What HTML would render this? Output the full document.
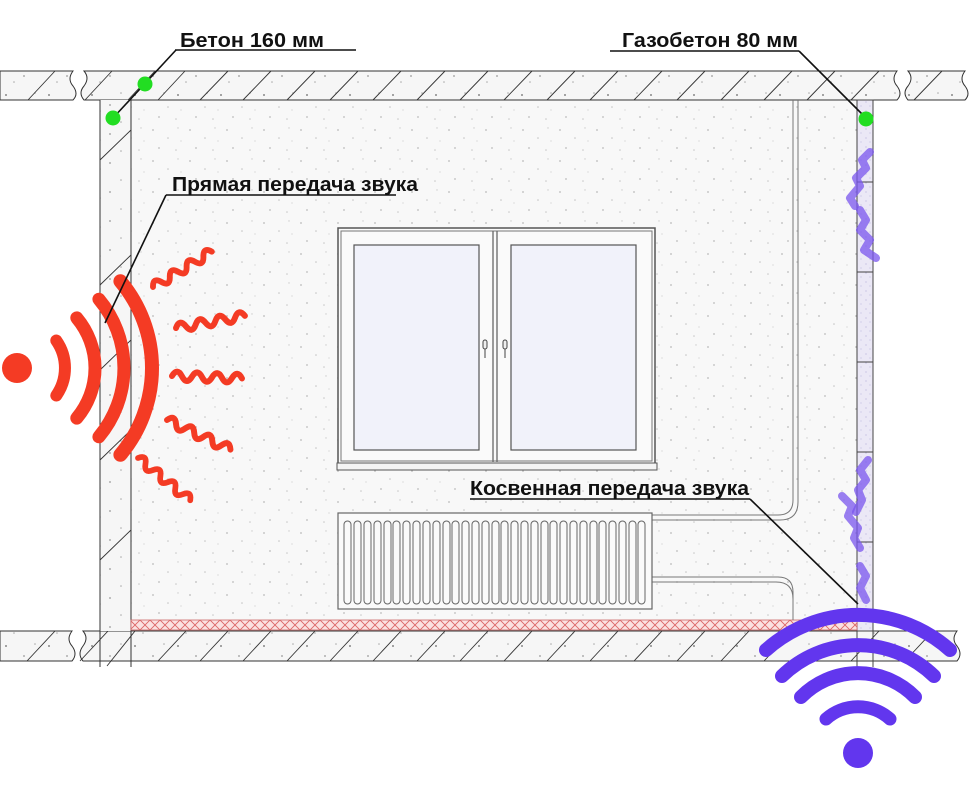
<!DOCTYPE html>
<html><head><meta charset="utf-8">
<style>
html,body{margin:0;padding:0;background:#fff;}
svg{display:block;}
text{font-family:"Liberation Sans","DejaVu Sans",sans-serif;font-weight:bold;fill:#111;}
</style></head>
<body>
<svg width="980" height="800" viewBox="0 0 980 800" xmlns="http://www.w3.org/2000/svg">
<defs>
<pattern id="dots" width="37" height="31" patternUnits="userSpaceOnUse">
<rect width="37" height="31" fill="#f8f8f8"/>
<circle cx="5" cy="6" r="0.9" fill="#bbb"/>
<circle cx="20" cy="14" r="0.8" fill="#c4c4c4"/>
<circle cx="30" cy="4" r="0.7" fill="#ccc"/>
<circle cx="11" cy="24" r="0.9" fill="#bdbdbd"/>
<circle cx="28" cy="26" r="0.8" fill="#c8c8c8"/>
<circle cx="33" cy="17" r="0.6" fill="#ccc"/>
</pattern>
<pattern id="slabdots" width="43" height="29" patternUnits="userSpaceOnUse">
<rect width="43" height="29" fill="#f6f6f6"/>
<circle cx="6" cy="8" r="1" fill="#888"/>
<circle cx="24" cy="18" r="0.9" fill="#999"/>
<circle cx="35" cy="6" r="0.8" fill="#aaa"/>
<circle cx="14" cy="24" r="0.8" fill="#aaa"/>
</pattern>
<pattern id="gas" width="9" height="9" patternUnits="userSpaceOnUse">
<rect width="9" height="9" fill="#ebe8f6"/>
<circle cx="2" cy="3" r="0.6" fill="#b9b2dc"/>
<circle cx="6" cy="7" r="0.6" fill="#c3bde2"/>
</pattern>
<pattern id="cross" width="10" height="10" patternUnits="userSpaceOnUse">
<rect width="10" height="10" fill="#fbe1e1"/>
<path d="M0,0 L10,10 M10,0 L0,10" stroke="#d66" stroke-width="0.9"/>
</pattern>
<g id="wave"><path d="M0,0 q5,-9 10,0 t10,0 t10,0 t10,0 t10,0 t10,0 t10,0" fill="none" stroke="#f43b24" stroke-width="6" stroke-linecap="round"/></g>
</defs>

<rect x="131" y="100" width="726" height="530" fill="url(#dots)"/>
<path d="M0,71 H73 q-6,8 0,15 q6,8 0,14 H0 Z" fill="url(#slabdots)" stroke="#333" stroke-width="1"/>
<path d="M84,71 H897 q-6,8 0,15 q6,8 0,14 H84 q-6,-7 0,-14 q6,-8 0,-15 Z" fill="url(#slabdots)" stroke="#333" stroke-width="1"/>
<path d="M908,71 H965 q-6,8 0,15 q6,8 0,14 H908 q-6,-7 0,-14 q6,-8 0,-15 Z" fill="url(#slabdots)" stroke="#333" stroke-width="1"/>
<g stroke="#333" stroke-width="0.9">
<line x1="28" y1="100" x2="55" y2="71"/><line x1="85" y1="100" x2="112" y2="71"/>
<line x1="128" y1="100" x2="155" y2="71"/><line x1="158" y1="100" x2="185" y2="71"/>
<line x1="200" y1="100" x2="228" y2="71"/><line x1="243" y1="100" x2="271" y2="71"/>
<line x1="287" y1="100" x2="315" y2="71"/><line x1="330" y1="100" x2="358" y2="71"/>
<line x1="373" y1="100" x2="401" y2="71"/><line x1="417" y1="100" x2="445" y2="71"/>
<line x1="460" y1="100" x2="488" y2="71"/><line x1="504" y1="100" x2="532" y2="71"/>
<line x1="547" y1="100" x2="575" y2="71"/><line x1="590" y1="100" x2="618" y2="71"/>
<line x1="634" y1="100" x2="662" y2="71"/><line x1="677" y1="100" x2="705" y2="71"/>
<line x1="721" y1="100" x2="749" y2="71"/><line x1="764" y1="100" x2="792" y2="71"/>
<line x1="807" y1="100" x2="835" y2="71"/><line x1="851" y1="100" x2="879" y2="71"/>
<line x1="914" y1="100" x2="942" y2="71"/>
</g>
<path d="M0,631 H72 q-6,8 0,15 q6,8 0,15 H0 Z" fill="url(#slabdots)" stroke="#333" stroke-width="1"/>
<path d="M83,631 H957 q-6,8 0,15 q6,8 0,15 H83 q-6,-7 0,-15 q6,-8 0,-15 Z" fill="url(#slabdots)" stroke="#333" stroke-width="1"/>
<g stroke="#333" stroke-width="0.9">
<line x1="27" y1="661" x2="55" y2="631"/><line x1="80" y1="661" x2="108" y2="631"/>
<line x1="107" y1="666" x2="135" y2="631"/><line x1="158" y1="661" x2="186" y2="631"/>
<line x1="200" y1="661" x2="228" y2="631"/><line x1="243" y1="661" x2="271" y2="631"/>
<line x1="287" y1="661" x2="315" y2="631"/><line x1="330" y1="661" x2="358" y2="631"/>
<line x1="373" y1="661" x2="401" y2="631"/><line x1="417" y1="661" x2="445" y2="631"/>
<line x1="460" y1="661" x2="488" y2="631"/><line x1="504" y1="661" x2="532" y2="631"/>
<line x1="547" y1="661" x2="575" y2="631"/><line x1="590" y1="661" x2="618" y2="631"/>
<line x1="634" y1="661" x2="662" y2="631"/><line x1="677" y1="661" x2="705" y2="631"/>
<line x1="721" y1="661" x2="749" y2="631"/><line x1="764" y1="661" x2="792" y2="631"/>
<line x1="851" y1="661" x2="879" y2="631"/><line x1="905" y1="661" x2="933" y2="631"/>
</g>
<rect x="100" y="100" width="31" height="531" fill="url(#slabdots)"/>
<line x1="100" y1="100" x2="100" y2="667" stroke="#333" stroke-width="1"/>
<line x1="131" y1="100" x2="131" y2="667" stroke="#333" stroke-width="1"/>
<g stroke="#333" stroke-width="0.9">
<line x1="100" y1="160" x2="131" y2="130"/><line x1="100" y1="285" x2="131" y2="255"/>
<line x1="100" y1="370" x2="131" y2="340"/><line x1="100" y1="460" x2="131" y2="430"/>
<line x1="100" y1="560" x2="131" y2="530"/>
</g>
<rect x="857" y="100" width="16" height="531" fill="url(#gas)" stroke="#444" stroke-width="1"/>
<g stroke="#444" stroke-width="1">
<line x1="857" y1="182" x2="873" y2="182"/><line x1="857" y1="272" x2="873" y2="272"/>
<line x1="857" y1="362" x2="873" y2="362"/><line x1="857" y1="452" x2="873" y2="452"/>
<line x1="857" y1="542" x2="873" y2="542"/>
<line x1="857" y1="631" x2="857" y2="667"/><line x1="873" y1="631" x2="873" y2="667"/>
</g>
<rect x="131" y="620" width="726" height="10" fill="url(#cross)" stroke="#c66" stroke-width="0.8"/>
<g fill="none" stroke="#777" stroke-width="1">
<path d="M793,100 V500 q0,15 -15,15 H652"/>
<path d="M798,100 V502 q0,18 -18,18 H652"/>
<path d="M652,577 H778 q15,0 15,15 V620"/>
<path d="M652,582 H776 q17,0 17,17 V620"/>
</g>
<rect x="338" y="228" width="317" height="236" fill="#fafafa" stroke="#555" stroke-width="1.5"/>
<rect x="341" y="231" width="311" height="230" fill="none" stroke="#777" stroke-width="1"/>
<line x1="493" y1="231" x2="493" y2="462" stroke="#666" stroke-width="1.3"/>
<line x1="497" y1="231" x2="497" y2="462" stroke="#666" stroke-width="1.3"/>
<rect x="354" y="245" width="125" height="205" fill="#f1f2fa" stroke="#555" stroke-width="1.2"/>
<rect x="511" y="245" width="125" height="205" fill="#f1f2fa" stroke="#555" stroke-width="1.2"/>
<rect x="337" y="463" width="320" height="7" fill="#f4f4f4" stroke="#555" stroke-width="1"/>
<g fill="#eee" stroke="#444" stroke-width="1">
<rect x="483" y="340" width="4" height="9" rx="2"/><line x1="485" y1="349" x2="485" y2="358"/>
<rect x="503" y="340" width="4" height="9" rx="2"/><line x1="505" y1="349" x2="505" y2="358"/>
</g>
<rect x="338" y="513" width="314" height="96" fill="#fafafa" stroke="#666" stroke-width="1.2"/>
<g fill="none" stroke="#666" stroke-width="1">
<rect x="344" y="521" width="7" height="83" rx="3.5"/><rect x="354" y="521" width="7" height="83" rx="3.5"/>
<rect x="364" y="521" width="7" height="83" rx="3.5"/><rect x="374" y="521" width="7" height="83" rx="3.5"/>
<rect x="384" y="521" width="7" height="83" rx="3.5"/><rect x="393" y="521" width="7" height="83" rx="3.5"/>
<rect x="403" y="521" width="7" height="83" rx="3.5"/><rect x="413" y="521" width="7" height="83" rx="3.5"/>
<rect x="423" y="521" width="7" height="83" rx="3.5"/><rect x="433" y="521" width="7" height="83" rx="3.5"/>
<rect x="443" y="521" width="7" height="83" rx="3.5"/><rect x="452" y="521" width="7" height="83" rx="3.5"/>
<rect x="462" y="521" width="7" height="83" rx="3.5"/><rect x="472" y="521" width="7" height="83" rx="3.5"/>
<rect x="482" y="521" width="7" height="83" rx="3.5"/><rect x="492" y="521" width="7" height="83" rx="3.5"/>
<rect x="501" y="521" width="7" height="83" rx="3.5"/><rect x="511" y="521" width="7" height="83" rx="3.5"/>
<rect x="521" y="521" width="7" height="83" rx="3.5"/><rect x="531" y="521" width="7" height="83" rx="3.5"/>
<rect x="541" y="521" width="7" height="83" rx="3.5"/><rect x="550" y="521" width="7" height="83" rx="3.5"/>
<rect x="560" y="521" width="7" height="83" rx="3.5"/><rect x="570" y="521" width="7" height="83" rx="3.5"/>
<rect x="580" y="521" width="7" height="83" rx="3.5"/><rect x="590" y="521" width="7" height="83" rx="3.5"/>
<rect x="599" y="521" width="7" height="83" rx="3.5"/><rect x="609" y="521" width="7" height="83" rx="3.5"/>
<rect x="619" y="521" width="7" height="83" rx="3.5"/><rect x="629" y="521" width="7" height="83" rx="3.5"/>
<rect x="638" y="521" width="7" height="83" rx="3.5"/>
</g>

<g fill="none" stroke="#7a55ee" stroke-opacity="0.75" stroke-width="8" stroke-linejoin="round" stroke-linecap="round">
<polyline points="870,152 862,160 866,168 856,178 860,186 850,198 855,206"/>
<polyline points="860,210 866,220 860,230 870,240 864,250 876,258"/>
<polyline points="868,460 860,470 866,480 858,490 862,500 856,512"/>
<polyline points="842,496 852,506 848,516 858,528 854,538 860,548"/>
<polyline points="860,566 866,576 860,588 866,600"/>
</g>

<circle cx="17" cy="368" r="15" fill="#f43b24"/>
<g fill="none" stroke="#f43b24" stroke-linecap="round">
<path d="M56.3,340.5 A48,48 0 0 1 56.3,395.5" stroke-width="12"/>
<path d="M76.8,317.9 A78,78 0 0 1 76.8,418.1" stroke-width="13"/>
<path d="M98.9,299.2 A107,107 0 0 1 98.9,436.8" stroke-width="13"/>
<path d="M120.4,281.2 A135,135 0 0 1 120.4,454.8" stroke-width="14"/>
</g>
<use href="#wave" transform="translate(153,287) rotate(-31) scale(0.98)"/>
<use href="#wave" transform="translate(176,328) rotate(-10)"/>
<use href="#wave" transform="translate(172,376) rotate(2)"/>
<use href="#wave" transform="translate(167,420) rotate(25)"/>
<use href="#wave" transform="translate(138,458) rotate(39) scale(0.96)"/>

<circle cx="858" cy="753" r="15" fill="#6236ee"/>
<g fill="none" stroke="#6236ee" stroke-linecap="round">
<path d="M826,719 A48,48 0 0 1 890,719" stroke-width="13"/>
<path d="M801,697 A80,80 0 0 1 915,697" stroke-width="14"/>
<path d="M782,676 A109,109 0 0 1 934,676" stroke-width="14"/>
<path d="M766,650 A138,138 0 0 1 950,650" stroke-width="14"/>
</g>

<g stroke="#111" stroke-width="1.6" fill="none">
<line x1="175" y1="50" x2="356" y2="50"/>
<line x1="176" y1="50" x2="113" y2="118"/>
<line x1="610" y1="51" x2="799" y2="51"/>
<line x1="799" y1="51" x2="866" y2="118"/>
<line x1="166" y1="195" x2="396" y2="195"/>
<line x1="166" y1="195" x2="105" y2="323"/>
<line x1="470" y1="499" x2="750" y2="499"/>
<line x1="750" y1="499" x2="858" y2="604"/>
</g>
<circle cx="145" cy="84" r="7.5" fill="#22dd22"/>
<circle cx="113" cy="118" r="7.5" fill="#22dd22"/>
<circle cx="866" cy="119" r="7.5" fill="#22dd22"/>
<text x="180" y="47" font-size="20" textLength="144" lengthAdjust="spacingAndGlyphs">Бетон 160 мм</text>
<text x="622" y="47" font-size="20" textLength="176" lengthAdjust="spacingAndGlyphs">Газобетон 80 мм</text>
<text x="172" y="191" font-size="20" textLength="246" lengthAdjust="spacingAndGlyphs">Прямая передача звука</text>
<text x="470" y="495" font-size="20" textLength="279" lengthAdjust="spacingAndGlyphs">Косвенная передача звука</text>
</svg>
</body></html>
